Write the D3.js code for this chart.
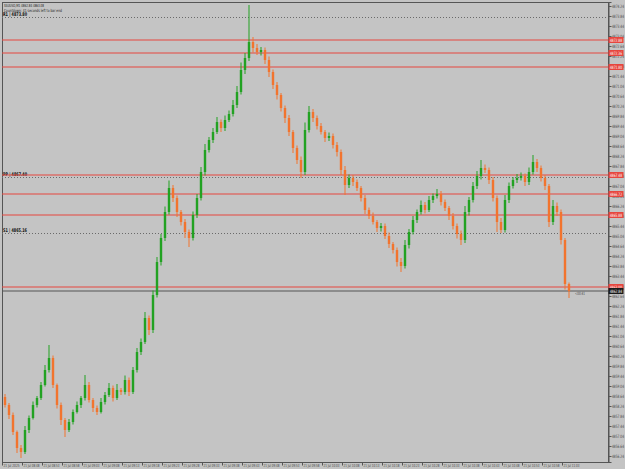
<!DOCTYPE html>
<html>
<head>
<meta charset="utf-8">
<script src="https://cdn.jsdelivr.net/npm/d3@7"></script>
<style>
  html, body { margin: 0; padding: 0; background: #c4c4c4; }
  svg { display: block; }
  text { font-family: "DejaVu Sans", sans-serif; }
</style>
</head>
<body>
<svg id="chart" width="625" height="469"></svg>
<script>
/*
	XAUUSD M1 chart
	candles with support / resistance levels, MT4 style
*/

// closes, one per minute bar
const closes = [
	4858.28, 4857.88, 4857.20, 4856.56, 4856.40, 4857.28, 4857.76, 4858.28, 4858.56, 4859.08,
	4859.68, 4860.16, 4859.08, 4858.28, 4857.68, 4857.28, 4857.60, 4858.00, 4858.28, 4858.56,
	4859.08, 4858.48, 4858.16, 4858.00, 4858.40, 4858.68, 4858.96, 4858.56, 4858.88, 4858.80,
	4859.28, 4858.80, 4859.68, 4860.40, 4860.80, 4861.76, 4861.28, 4862.68, 4864.00, 4864.96,
	4866.00, 4866.96, 4866.56, 4866.00, 4865.60, 4865.20, 4864.96, 4865.88, 4866.56, 4867.60,
	4868.48, 4868.88, 4869.20, 4869.60, 4869.36, 4869.68, 4869.92, 4870.28, 4870.80, 4871.68,
	4872.16, 4872.80, 4872.56, 4872.40, 4872.48, 4872.08, 4871.60, 4871.08, 4870.68, 4870.16,
	4869.76, 4869.20, 4868.56, 4868.08, 4867.60, 4869.28, 4870.00, 4869.76, 4869.44, 4869.20,
	4868.96, 4869.04, 4868.68, 4868.40, 4867.68, 4867.08, 4867.36, 4867.20, 4866.96, 4866.56,
	4866.08, 4865.84, 4865.60, 4865.36, 4865.44, 4865.04, 4864.72, 4864.48, 4864.00, 4863.84,
	4864.68, 4865.20, 4865.68, 4866.00, 4866.28, 4866.08, 4866.48, 4866.64, 4866.72, 4866.40,
	4866.16, 4865.84, 4865.44, 4865.12, 4864.88, 4866.00, 4866.48, 4867.04, 4867.44, 4867.76,
	4867.68, 4867.28, 4866.56, 4865.60, 4865.28, 4866.48, 4867.04, 4867.28, 4867.36, 4867.44,
	4867.20, 4867.60, 4868.00, 4867.76, 4867.36, 4867.04, 4865.60, 4866.24, 4866.00, 4864.88,
	4863.12, 4862.84
];
const firstOpen = 4858.60;

// wick lengths above / below the body
const upWicks = [
	.12,.08,.10,.06,.12,.16,.10,.14,.08,.12, .20,.52,.10,.06,.10,.08,.12,.10,.14,.08,
	.40,.12,.08,.10,.16,.12,.20,.10,.24,.08, .18,.10,.12,.16,.14,.24,.10,.18,.20,.16,
	.22,.30,.12,.10,.08,.12,.10,.14,.16,.20, .24,.12,.16,.20,.10,.18,.14,.20,.24,.30,
	.20,1.48,.20,.16,.12,.10,.14,.10,.12,.08, .10,.12,.08,.10,.14,.30,.24,.12,.10,.12,
	.08,.14,.10,.12,.10,.16,.14,.12,.10,.08, .12,.10,.14,.08,.12,.10,.14,.08,.10,.16,
	.20,.12,.16,.10,.18,.12,.16,.10,.20,.12, .10,.08,.12,.10,.14,.24,.12,.16,.20,.32,
	.14,.10,.12,.10,.16,.20,.14,.12,.16,.14, .10,.18,.28,.12,.10,.12,.08,.24,.14,.10,
	.08,.06
];
const downWicks = [
	.10,.16,.12,.20,.24,.08,.12,.06,.10,.08, .06,.10,.12,.14,.20,.28,.08,.10,.06,.12,
	.10,.10,.16,.12,.06,.10,.08,.14,.08,.12, .10,.16,.08,.10,.12,.08,.20,.12,.10,.14,
	.12,.10,.16,.20,.14,.24,.36,.10,.12,.10, .14,.10,.12,.08,.16,.12,.08,.10,.12,.10,
	.16,.12,.18,.12,.14,.16,.20,.16,.18,.14, .20,.16,.20,.16,.24,.12,.10,.16,.14,.10,
	.16,.12,.14,.18,.20,.40,.12,.16,.12,.14, .16,.12,.10,.16,.14,.12,.16,.14,.18,.24,
	.10,.14,.10,.12,.10,.14,.08,.12,.10,.14, .12,.16,.14,.18,.20,.12,.14,.10,.12,.14,
	.12,.16,.14,.40,.12,.10,.12,.10,.12,.10, .16,.12,.10,.16,.14,.16,.20,.12,.16,.18,
	.22,.28
];

// horizontal levels
const redLevels = [4872.88, 4872.36, 4871.80, 4867.48, 4866.72, 4865.88, 4863.00];
const pivotLevels = [4873.80, 4867.40, 4865.16];
const pivotNames = ["R1", "PP", "S1"];
const bidPrice = 4862.84;

// price axis ticks
const priceTicks = d3.range(4874.24, 4855.9, -0.40);

// time axis labels every 5 bars
const timeTickBars = d3.range(0, 141, 5);
const timeLabels = [
	"21 Jul 2025", "21 Jul 08:48", "21 Jul 08:53", "21 Jul 08:58", "21 Jul 09:03", "21 Jul 09:08",
	"21 Jul 09:13", "21 Jul 09:18", "21 Jul 09:23", "21 Jul 09:28", "21 Jul 09:33", "21 Jul 09:38",
	"21 Jul 09:43", "21 Jul 09:48", "21 Jul 09:53", "21 Jul 09:58", "21 Jul 10:03", "21 Jul 10:08",
	"21 Jul 10:13", "21 Jul 10:18", "21 Jul 10:23", "21 Jul 10:28", "21 Jul 10:33", "21 Jul 10:38",
	"21 Jul 10:43", "21 Jul 10:48", "21 Jul 10:53", "21 Jul 10:58", "21 Jul 11:03"
];

const UP = "#22a222", DOWN = "#f2742e", RED = "#e6463e";

const svg = d3.select("#chart");
const plotLeft = 2, plotRight = 608, plotTop = 2, plotBottom = 462;

const y = d3.scaleLinear().domain([4856.00, 4874.40]).range([plotBottom, plotTop]);
const x = d3.scaleLinear().domain([0, closes.length - 1]).range([5, 569]);

// squeeze tiny MT4 style text into a fixed width
function fit(sel, w){
	sel.attr("textLength", w).attr("lengthAdjust", "spacingAndGlyphs");
}

// build candles
const candles = closes.map((c, i) => {
	const o = i == 0 ? firstOpen : closes[i - 1];
	return {i: i, o: o, c: c, h: Math.max(o, c) + upWicks[i], l: Math.min(o, c) - downWicks[i]};
});

// frame
svg.append("rect").attr("x", plotLeft + 0.5).attr("y", plotTop + 0.5)
	.attr("width", plotRight - plotLeft).attr("height", plotBottom - plotTop)
	.attr("fill", "#c4c4c4").attr("stroke", "#555").attr("stroke-width", 1);

// pivot dotted lines
svg.selectAll(".pivot").data(pivotLevels).enter().append("line")
	.attr("x1", plotLeft).attr("x2", plotRight)
	.attr("y1", d => Math.round(y(d)) + 0.5).attr("y2", d => Math.round(y(d)) + 0.5)
	.attr("stroke", "#6a6a6a").attr("stroke-width", 1).attr("stroke-dasharray", "1,2");

svg.selectAll(".pivotLabel").data(pivotLevels).enter().append("text")
	.attr("x", 3).attr("y", d => y(d) - 1)
	.attr("font-size", 5).attr("font-weight", "bold").attr("fill", "#111")
	.text((d, i) => pivotNames[i] + " | " + d.toFixed(2))
	.call(fit, 24);

// red levels
svg.selectAll(".red").data(redLevels).enter().append("line")
	.attr("x1", plotLeft).attr("x2", plotRight)
	.attr("y1", d => y(d)).attr("y2", d => y(d))
	.attr("stroke", RED).attr("stroke-width", 1.2);

// bid line
svg.append("line").attr("x1", plotLeft).attr("x2", plotRight)
	.attr("y1", y(bidPrice)).attr("y2", y(bidPrice))
	.attr("stroke", "#555").attr("stroke-width", 1);

// candles
const g = svg.append("g");
g.selectAll(".wick").data(candles).enter().append("line")
	.attr("x1", d => x(d.i)).attr("x2", d => x(d.i))
	.attr("y1", d => y(d.h)).attr("y2", d => y(d.l))
	.attr("stroke", d => d.c >= d.o ? UP : DOWN).attr("stroke-width", 1);
g.selectAll(".body").data(candles).enter().append("rect")
	.attr("x", d => x(d.i) - 1.2).attr("width", 2.4)
	.attr("y", d => y(Math.max(d.o, d.c)))
	.attr("height", d => Math.max(0.8, Math.abs(y(d.o) - y(d.c))))
	.attr("fill", d => d.c >= d.o ? UP : DOWN);

// countdown next to last bar
svg.append("text").attr("x", x(closes.length - 1) + 6).attr("y", y(bidPrice) + 3.5)
	.attr("font-size", 4.5).attr("fill", "#444").text("<00:41").call(fit, 10);

// price axis
const yAxis = d3.axisRight(y).tickValues(priceTicks).tickSize(3).tickFormat(d => d.toFixed(2));
svg.append("g").attr("transform", `translate(${plotRight + 0.5},0)`).call(yAxis)
	.call(a => a.select(".domain").attr("stroke", "#555"))
	.call(a => a.selectAll("line").attr("stroke", "#555"))
	.call(a => a.selectAll("text").attr("font-size", 4.5).attr("fill", "#444")
		.attr("x", 3.5).attr("font-family", "DejaVu Sans").call(fit, 12));

// level price tags on the axis
const tags = redLevels.map(p => ({p: p, fill: RED})).concat([{p: bidPrice, fill: "#1a1a1a"}]);
const tagG = svg.selectAll(".tag").data(tags).enter().append("g")
	.attr("transform", d => `translate(${plotRight},${y(d.p)})`);
tagG.append("rect").attr("x", 0.5).attr("y", -3).attr("width", 15).attr("height", 6)
	.attr("fill", d => d.fill);
tagG.append("text").attr("x", 2).attr("y", 1.7).attr("font-size", 4.5).attr("fill", "#fff")
	.text(d => d.p.toFixed(2)).call(fit, 12);

// time axis
const xAxis = d3.axisBottom(x).tickValues(timeTickBars).tickSize(3)
	.tickFormat((d, i) => timeLabels[i]);
svg.append("g").attr("transform", `translate(0,${plotBottom + 0.5})`).call(xAxis)
	.call(a => a.select(".domain").remove())
	.call(a => a.selectAll("line").attr("stroke", "#555").attr("transform", "translate(-3,0)"))
	.call(a => a.selectAll("text").attr("font-size", 4.2).attr("fill", "#444")
		.attr("text-anchor", "start").attr("x", -2).attr("y", 1.5).attr("dy", "0.71em")
		.attr("font-family", "DejaVu Sans").call(fit, 16));
svg.append("line").attr("x1", plotLeft).attr("x2", plotRight + 1)
	.attr("y1", plotBottom + 0.5).attr("y2", plotBottom + 0.5)
	.attr("stroke", "#555");

// header
svg.append("text").attr("x", 4).attr("y", 6.5).attr("font-size", 4.2).attr("fill", "#222")
	.text("XAUUSD,M1  4862.84 4863.08").call(fit, 40);
svg.append("text").attr("x", 4).attr("y", 11.5).attr("font-size", 4.2).attr("fill", "#222")
	.text("Countdown: 41 seconds left to bar end").call(fit, 58);
</script>
</body>
</html>
